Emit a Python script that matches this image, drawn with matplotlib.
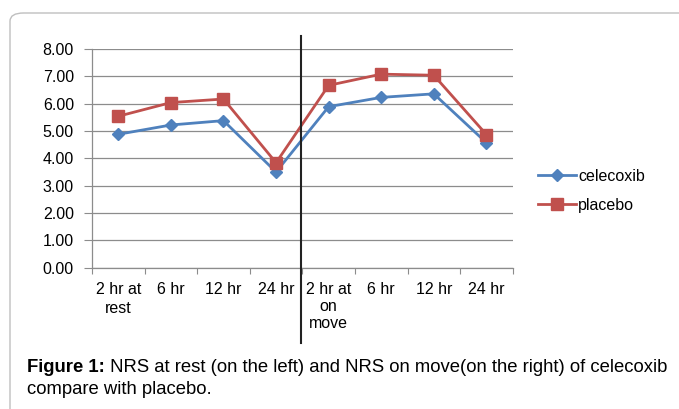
import matplotlib
matplotlib.use("Agg")
import matplotlib.pyplot as plt
from matplotlib.patches import FancyBboxPatch

categories = ["2 hr at\nrest", "6 hr", "12 hr", "24 hr", "2 hr at\non\nmove", "6 hr", "12 hr", "24 hr"]
celecoxib = [4.88, 5.22, 5.38, 3.50, 5.89, 6.23, 6.36, 4.57]
placebo = [5.54, 6.04, 6.17, 3.84, 6.67, 7.08, 7.04, 4.87]
yticks = [0, 1, 2, 3, 4, 5, 6, 7, 8]
caption_bold = "Figure 1:"
caption_rest = " NRS at rest (on the left) and NRS on move(on the right) of celecoxib"
caption_line2 = "compare with placebo."

plt.rcParams["font.family"] = ["Liberation Sans", "DejaVu Sans"]

fig = plt.figure(figsize=(6.79, 4.09), dpi=100)
W, H = 679, 409

# outer rounded box
box = FancyBboxPatch((10 / W, -0.2), 1.2, 1 - 13 / H + 0.2,
                     boxstyle="round,pad=0,rounding_size=0.02",
                     transform=fig.transFigure, facecolor="none",
                     edgecolor="#bfbfbf", linewidth=1.0, zorder=-1)
fig.patches.append(box)

ax = fig.add_axes([92 / W, 1 - 267.7 / H, (512.7 - 92) / W, (267.7 - 49) / H])
ax.set_facecolor("none")
x = list(range(len(categories)))

ax.plot(x, celecoxib, color="#4F81BD", lw=2.0, marker="D", ms=6,
        label="celecoxib", zorder=3)
ax.plot(x, placebo, color="#C0504D", lw=2.0, marker="s", ms=8,
        label="placebo", zorder=3)

ax.set_xlim(-0.5, len(categories) - 0.5)
ax.set_ylim(0, 8)
ax.set_yticks(yticks)
ax.set_yticklabels([f"{v:.2f}" for v in yticks], fontsize=11.5)
ax.yaxis.grid(True, color="#8c8c8c", lw=0.9)
ax.set_axisbelow(True)

ax.set_xticks([i + 0.5 for i in range(-1, len(categories))], minor=False)
ax.set_xticklabels([""] * (len(categories) + 1))
ax.set_xticks(x, minor=True)
labels = ax.set_xticklabels(categories, minor=True, fontsize=11.5, linespacing=1.15)
labels[0].set_linespacing(1.35)
ax.tick_params(axis="x", which="major", length=4, color="#8c8c8c", direction="out")
ax.tick_params(axis="x", which="minor", length=0, pad=10.5)
ax.tick_params(axis="y", length=6, color="#8c8c8c", pad=7)

for s in ["top", "right"]:
    ax.spines[s].set_visible(False)
for s in ["left", "bottom"]:
    ax.spines[s].set_color("#8c8c8c")
    ax.spines[s].set_linewidth(0.9)

# separator between rest and move
ax.axvline(3.47, ymin=-0.343, ymax=1.059, color="#222222", lw=1.5, clip_on=False, zorder=4)

leg = ax.legend(loc="upper left", bbox_to_anchor=(538 / W, 1 - 169 / H),
                bbox_transform=fig.transFigure, frameon=False, fontsize=11.5,
                handlelength=2.4, handletextpad=0.1, labelspacing=0.85,
                borderaxespad=0, borderpad=0)

t = fig.text(27 / W, 1 - 368 / H, caption_bold, fontsize=13.3, fontweight="bold",
             va="center", ha="left")
fig.canvas.draw()
bb = t.get_window_extent()
fig.text(bb.x1 / W, 1 - 368 / H, caption_rest, fontsize=13.3, va="center", ha="left")
fig.text(27 / W, 1 - 390 / H, caption_line2, fontsize=13.3, va="center", ha="left")

fig.savefig("out.png", dpi=100)
